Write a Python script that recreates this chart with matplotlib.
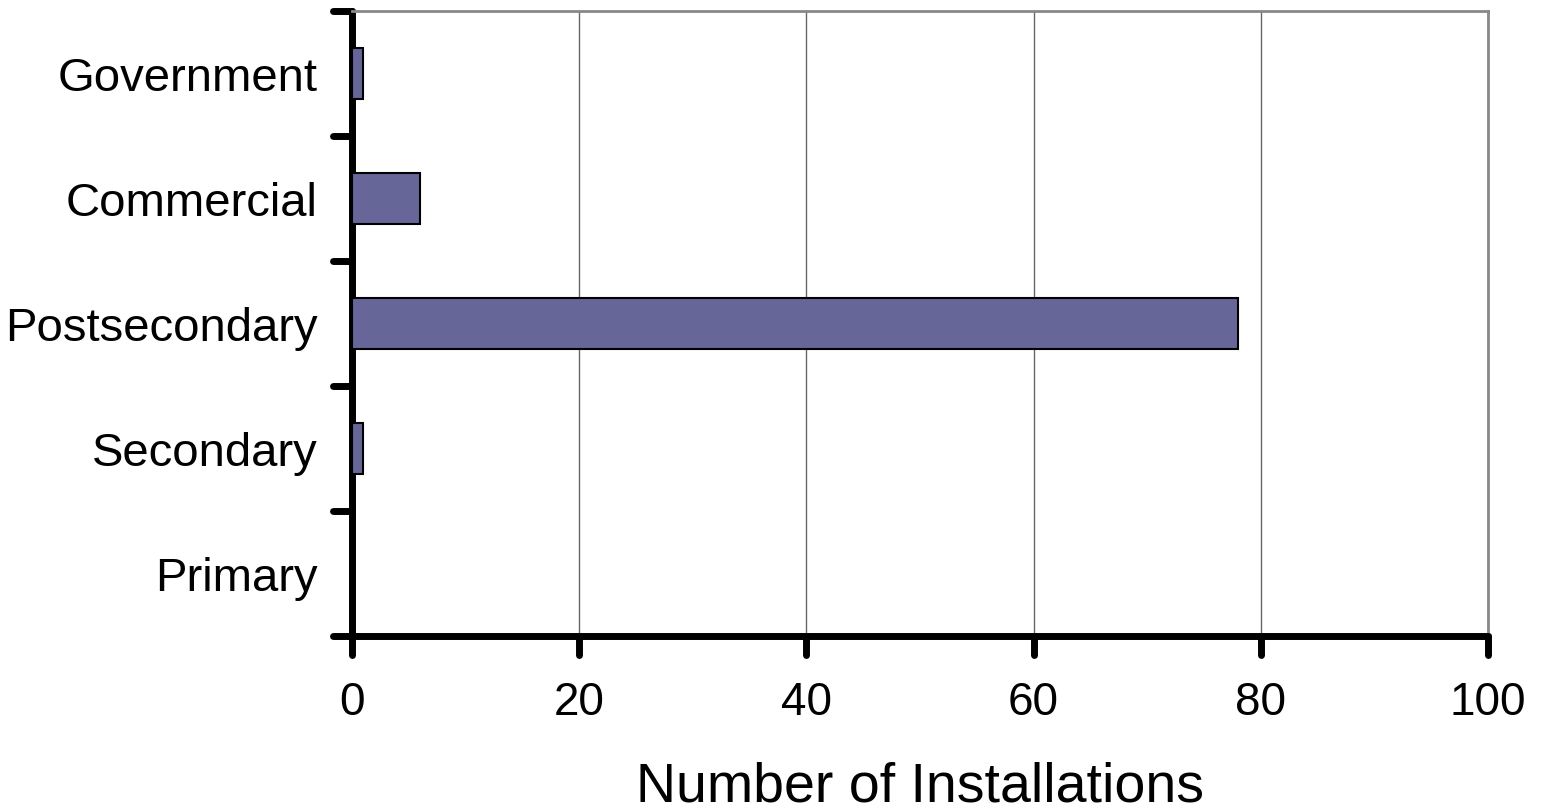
import matplotlib
matplotlib.use("Agg")
import matplotlib.pyplot as plt
from matplotlib.markers import MarkerStyle, TICKLEFT, TICKDOWN
import numpy as np

plt.rcParams['font.family'] = ['Liberation Sans', 'DejaVu Sans']

categories = ["Primary", "Secondary", "Postsecondary", "Commercial", "Government"]
installations = [0, 1, 78, 6, 1]
x_ticks = [0, 20, 40, 60, 80, 100]

fig = plt.figure(figsize=(15.43, 8.12), dpi=100)
ax = fig.add_axes([352 / 1543, 1 - 637 / 812, (1488 - 352) / 1543, (637 - 12) / 812])

y = np.arange(len(categories))
ax.barh(y, installations, height=0.41, color="#666699", edgecolor="black", linewidth=1.5, zorder=3)

ax.set_xlim(0, 100)
ax.set_ylim(-0.5, len(categories) - 0.5)
ax.set_xticks(x_ticks)
ax.set_xticklabels([str(v) for v in x_ticks], fontsize=33)

# category ticks sit on the boundaries, labels at the centres
ax.set_yticks(np.arange(-0.5, len(categories), 1.0))
ax.set_yticklabels([])
ax.set_yticks(y, minor=True)
ax.set_yticklabels(categories, minor=True, fontsize=34)
ax.tick_params(axis='y', which='minor', length=0, pad=24.5)
ax.tick_params(axis='y', which='major', direction='out', length=14, width=5, color='black')
ax.tick_params(axis='x', which='major', direction='out', length=14, width=5, color='black', pad=18)

# rounded ends on the heavy tick marks
for line in ax.yaxis.get_majorticklines():
    if line.get_marker() == TICKLEFT:
        line.set_marker(MarkerStyle(TICKLEFT, capstyle='round'))
for line in ax.xaxis.get_majorticklines():
    if line.get_marker() == TICKDOWN:
        line.set_marker(MarkerStyle(TICKDOWN, capstyle='round'))

ax.xaxis.grid(True, color="#666666", linewidth=1.0, zorder=0)
ax.set_axisbelow(True)

for side in ("left", "bottom"):
    ax.spines[side].set_linewidth(5)
    ax.spines[side].set_color("black")
    ax.spines[side].set_capstyle("round")
for side in ("top", "right"):
    ax.spines[side].set_linewidth(2)
    ax.spines[side].set_color("#888888")

ax.set_xlabel("Number of Installations", fontsize=40, labelpad=26)

fig.savefig("out.png", dpi=100, facecolor="white")
